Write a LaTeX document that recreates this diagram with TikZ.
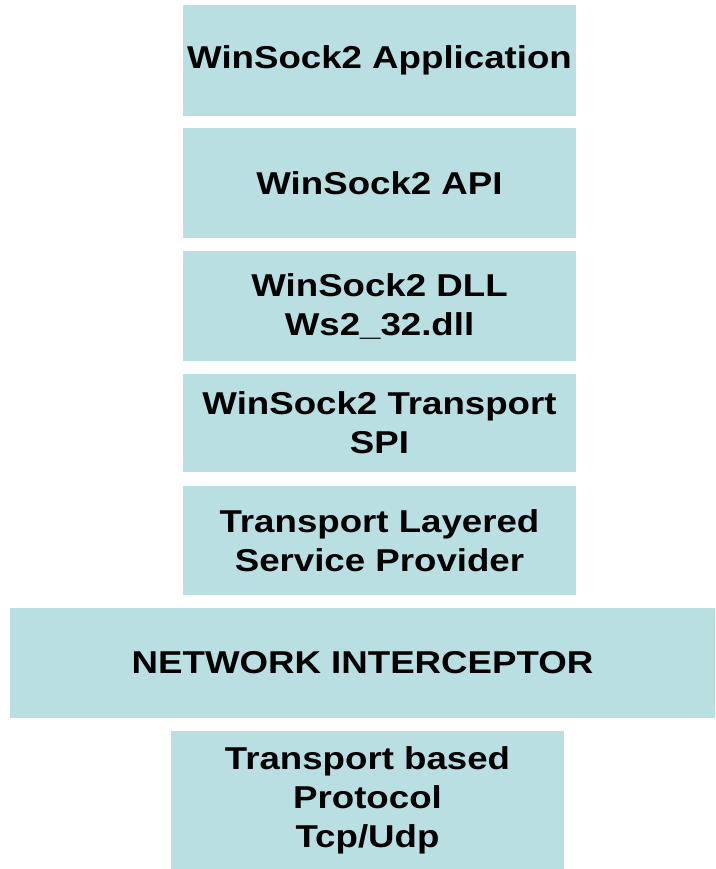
\documentclass[tikz,border=0pt]{standalone}
\usepackage{fontspec}
\setmainfont[FakeStretch=1.16]{Liberation Sans}
\definecolor{layerfill}{RGB}{186,223,226}
\begin{document}
\begin{tikzpicture}[x=1pt,y=-1pt,
  layer/.style={rectangle,fill=layerfill,draw=none,inner sep=0pt,align=center,
    font=\fontsize{31.6}{39}\selectfont\bfseries,text=black}]
\useasboundingbox (0,0) rectangle (715,869);
\node[layer,minimum width=393pt,minimum height=111pt] (app) at (379.5,60.5) {WinSock2 Application};
\node[layer,minimum width=393pt,minimum height=110pt] (api) at (379.5,183) {WinSock2 API};
\node[layer,minimum width=393pt,minimum height=110pt] (dll) at (379.5,306) {WinSock2 DLL\\Ws2\_32.dll};
\node[layer,minimum width=393pt,minimum height=98pt] (spi) at (379.5,423) {WinSock2 Transport\\SPI};
\node[layer,minimum width=393pt,minimum height=109pt] (lsp) at (379.5,540.5) {Transport Layered\\Service Provider};
\node[layer,minimum width=705pt,minimum height=110pt] (net) at (362.5,663) {NETWORK INTERCEPTOR};
\node[layer,minimum width=393pt,minimum height=138pt] (proto) at (367.5,800) {Transport based\\Protocol\\Tcp/Udp};
\end{tikzpicture}
\end{document}
